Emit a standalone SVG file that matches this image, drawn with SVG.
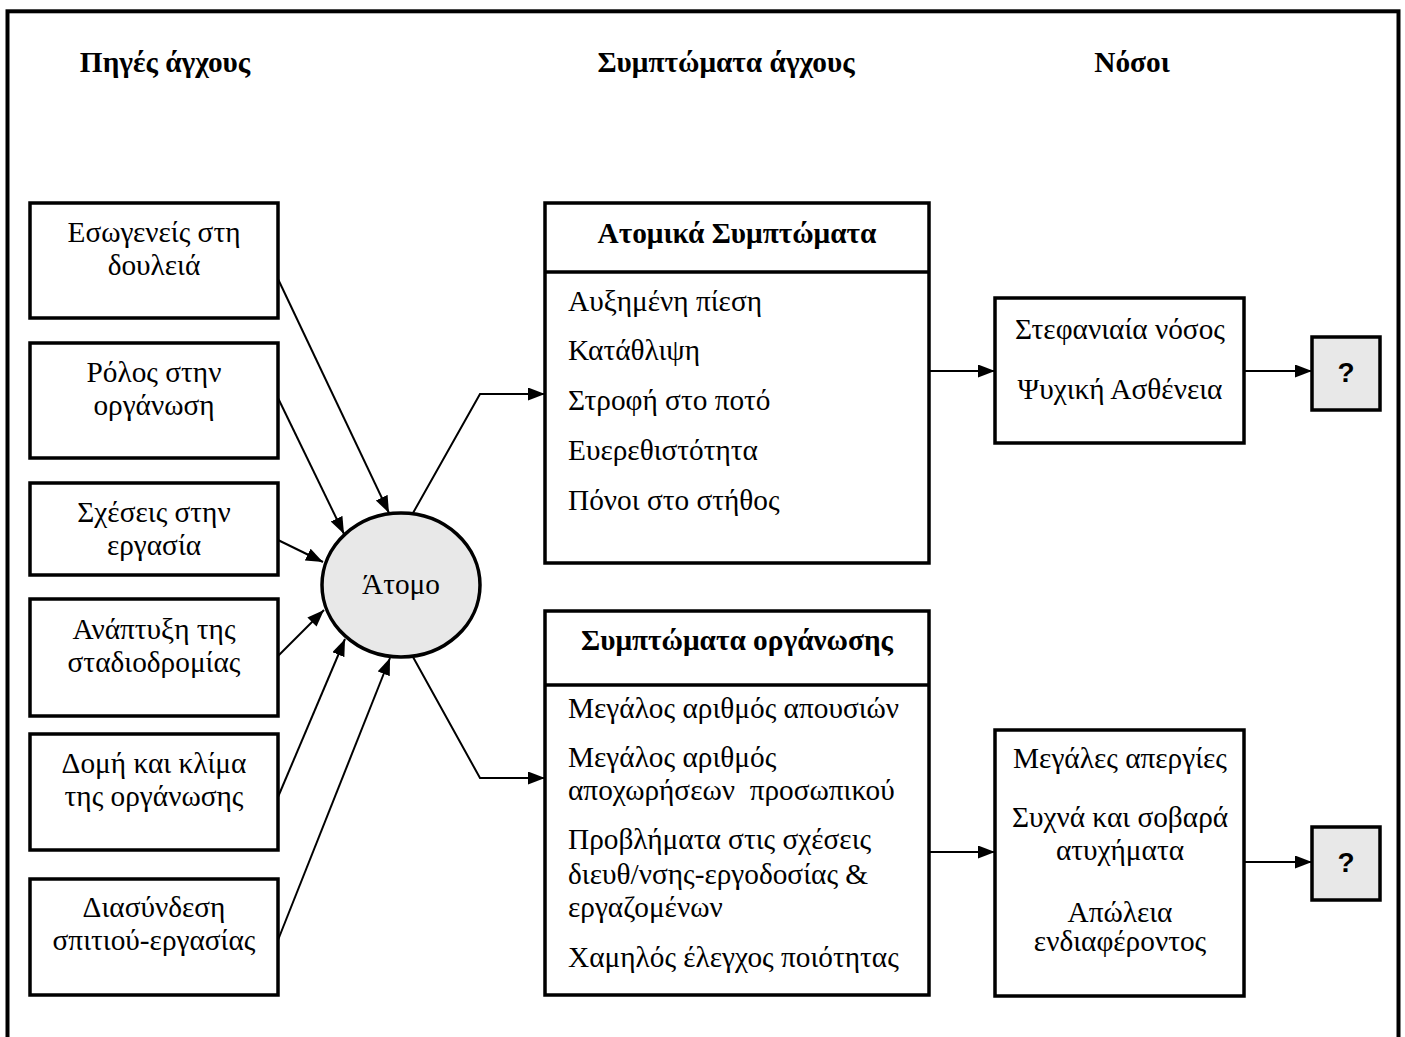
<svg xmlns="http://www.w3.org/2000/svg" width="1405" height="1037" viewBox="0 0 1405 1037">
<style>
  .box { fill: #ffffff; stroke: #000000; stroke-width: 3.5; }
  .gray { fill: #e8e8e8; stroke: #000000; stroke-width: 3.5; }
  .t { font-family: "Liberation Serif", "Times New Roman", serif; font-size: 29.3px; fill: #000000; }
  .c { text-anchor: middle; }
  .b { font-weight: bold; }
  .q { font-family: "Liberation Sans", Arial, sans-serif; font-size: 28px; font-weight: bold; text-anchor: middle; fill: #000000; }
  .conn { fill: none; stroke: #000000; stroke-width: 2; marker-end: url(#arrow); }
</style>
<defs>
  <marker id="arrow" markerUnits="userSpaceOnUse" markerWidth="18" markerHeight="14" refX="17" refY="6.5" orient="auto">
    <path d="M0,0 L17,6.5 L0,13 z" fill="#000000"/>
  </marker>
</defs>
<rect x="0" y="0" width="1405" height="1037" fill="#ffffff"/>
<rect id="frame" x="7.5" y="11.3" width="1391" height="1100" fill="none" stroke="#000000" stroke-width="4"/>

<g id="titles">
  <text class="t b c" x="165" y="72">Πηγές άγχους</text>
  <text class="t b c" x="726" y="72">Συμπτώματα άγχους</text>
  <text class="t b c" x="1132" y="72">Νόσοι</text>
</g>

<g id="src1"><rect class="box" x="30" y="203" width="248" height="115"/>
  <text class="t c" x="154" y="242">Εσωγενείς στη</text><text class="t c" x="154" y="275">δουλειά</text></g>
<g id="src2"><rect class="box" x="30" y="343" width="248" height="115"/>
  <text class="t c" x="154" y="382">Ρόλος στην</text><text class="t c" x="154" y="415">οργάνωση</text></g>
<g id="src3"><rect class="box" x="30" y="483" width="248" height="92"/>
  <text class="t c" x="154" y="522">Σχέσεις στην</text><text class="t c" x="154" y="555">εργασία</text></g>
<g id="src4"><rect class="box" x="30" y="599" width="248" height="117"/>
  <text class="t c" x="154" y="639">Ανάπτυξη της</text><text class="t c" x="154" y="672">σταδιοδρομίας</text></g>
<g id="src5"><rect class="box" x="30" y="734" width="248" height="116"/>
  <text class="t c" x="154" y="773">Δομή και κλίμα</text><text class="t c" x="154" y="806">της οργάνωσης</text></g>
<g id="src6"><rect class="box" x="30" y="879" width="248" height="116"/>
  <text class="t c" x="154" y="917">Διασύνδεση</text><text class="t c" x="154" y="950">σπιτιού-εργασίας</text></g>

<g id="atomo"><ellipse class="gray" cx="401" cy="585" rx="79" ry="72"/>
  <text class="t c" x="401" y="594">Άτομο</text></g>

<g id="indiv"><rect class="box" x="545" y="203" width="384" height="360"/>
  <line x1="545" y1="272" x2="929" y2="272" stroke="#000000" stroke-width="3.5"/>
  <text class="t b c" x="737" y="243">Ατομικά Συμπτώματα</text>
  <text class="t" x="568" y="311">Αυξημένη πίεση</text>
  <text class="t" x="568" y="360">Κατάθλιψη</text>
  <text class="t" x="568" y="410">Στροφή στο ποτό</text>
  <text class="t" x="568" y="460">Ευερεθιστότητα</text>
  <text class="t" x="568" y="510">Πόνοι στο στήθος</text></g>

<g id="org"><rect class="box" x="545" y="611" width="384" height="384"/>
  <line x1="545" y1="685" x2="929" y2="685" stroke="#000000" stroke-width="3.5"/>
  <text class="t b c" x="737" y="650">Συμπτώματα οργάνωσης</text>
  <text class="t" x="568" y="718">Μεγάλος αριθμός απουσιών</text>
  <text class="t" x="568" y="767">Μεγάλος αριθμός</text>
  <text class="t" x="568" y="800" xml:space="preserve">αποχωρήσεων  προσωπικού</text>
  <text class="t" x="568" y="849">Προβλήματα στις σχέσεις</text>
  <text class="t" x="568" y="884">διευθ/νσης-εργοδοσίας &amp;</text>
  <text class="t" x="568" y="917">εργαζομένων</text>
  <text class="t" x="568" y="967">Χαμηλός έλεγχος ποιότητας</text></g>

<g id="disease1"><rect class="box" x="995" y="298" width="249" height="145"/>
  <text class="t c" x="1120" y="339">Στεφανιαία νόσος</text>
  <text class="t c" x="1120" y="399">Ψυχική Ασθένεια</text></g>

<g id="disease2"><rect class="box" x="995" y="730" width="249" height="266"/>
  <text class="t c" x="1120" y="768">Μεγάλες απεργίες</text>
  <text class="t c" x="1120" y="827">Συχνά και σοβαρά</text>
  <text class="t c" x="1120" y="860">ατυχήματα</text>
  <text class="t c" x="1120" y="922">Απώλεια</text>
  <text class="t c" x="1120" y="951">ενδιαφέροντος</text></g>

<g id="q1"><rect class="gray" x="1312" y="337" width="68" height="73"/>
  <text class="q" x="1346" y="382">?</text></g>
<g id="q2"><rect class="gray" x="1312" y="827" width="68" height="73"/>
  <text class="q" x="1346" y="872">?</text></g>

<g id="connectors">
  <line class="conn" x1="278" y1="279" x2="389" y2="513"/>
  <line class="conn" x1="278" y1="398" x2="344" y2="534"/>
  <line class="conn" x1="278" y1="540" x2="323" y2="562"/>
  <line class="conn" x1="278" y1="656" x2="324" y2="610"/>
  <line class="conn" x1="278" y1="797" x2="345" y2="639"/>
  <line class="conn" x1="278" y1="940" x2="390" y2="658"/>
  <polyline class="conn" points="413,513 480,394 545,394"/>
  <polyline class="conn" points="413,657 480,778 545,778"/>
  <line class="conn" x1="929" y1="371" x2="995" y2="371"/>
  <line class="conn" x1="1244" y1="371" x2="1312" y2="371"/>
  <line class="conn" x1="929" y1="852" x2="995" y2="852"/>
  <line class="conn" x1="1244" y1="862" x2="1312" y2="862"/>
</g>
</svg>
